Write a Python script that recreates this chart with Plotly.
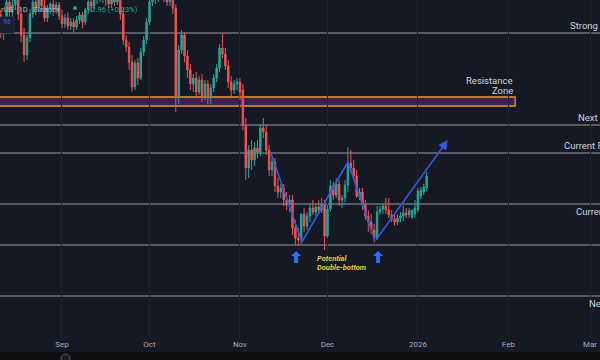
import plotly.graph_objects as go
import pandas as pd

# ---------------- data ----------------
dates = pd.date_range("2025-08-11", periods=147, freq="D")

open_ = [385, 367, 378, 398, 388, 395, 403, 386, 365, 345, 362, 386, 398, 392, 402, 394, 382, 392, 396, 390,
         395, 384, 376, 382, 374, 378, 373, 380, 385, 378, 390, 398, 394, 404, 408, 402, 406, 400, 396, 402,
         398, 404, 386, 360, 353, 338, 313, 337, 322, 348, 360, 378, 398, 406, 402, 410, 404, 408, 398, 404,
         392, 304, 350, 365, 344, 330, 316, 322, 308, 320, 304, 316, 302, 312, 322, 332, 352, 346, 334, 318,
         310, 316, 318, 310, 275, 232, 250, 240, 252, 248, 272, 268, 250, 230, 238, 214, 208, 212, 200, 195,
         200, 172, 162, 160, 186, 174, 184, 192, 188, 193, 190, 195, 164, 191, 214, 205, 216, 200, 202, 215,
         237, 232, 224, 203, 208, 195, 184, 178, 170, 162, 188, 191, 194, 190, 185, 181, 178, 182, 184, 187,
         185, 183, 186, 190, 204, 208, 212]
high = [390, 380, 402, 405, 400, 408, 406, 392, 372, 365, 390, 405, 404, 406, 406, 400, 395, 398, 400, 398,
        398, 390, 386, 388, 382, 382, 384, 388, 388, 392, 402, 402, 408, 410, 412, 410, 412, 406, 404, 408,
        406, 408, 392, 365, 358, 345, 340, 342, 352, 364, 382, 402, 410, 412, 414, 416, 414, 414, 408, 408,
        396, 355, 370, 368, 350, 336, 326, 328, 324, 326, 320, 320, 316, 326, 336, 356, 367, 352, 340, 324,
        320, 322, 322, 316, 282, 255, 260, 258, 260, 276, 282, 275, 255, 242, 242, 222, 216, 216, 208, 205,
        205, 180, 172, 170, 192, 188, 196, 200, 196, 200, 202, 200, 195, 220, 218, 222, 220, 205, 220, 253,
        250, 240, 230, 212, 212, 200, 190, 186, 176, 194, 194, 196, 202, 202, 190, 186, 186, 188, 194, 192,
        192, 190, 200, 212, 213, 216, 228]
low = [362, 360, 375, 380, 382, 390, 380, 358, 338, 340, 358, 382, 385, 388, 388, 378, 378, 386, 384, 386,
       380, 372, 372, 370, 370, 368, 370, 376, 372, 375, 386, 388, 390, 396, 398, 397, 394, 392, 392, 394,
       395, 380, 355, 348, 330, 308, 310, 315, 320, 344, 356, 375, 394, 396, 398, 400, 398, 394, 394, 386,
       288, 296, 346, 338, 322, 310, 308, 304, 305, 298, 300, 296, 296, 308, 318, 328, 342, 330, 312, 304,
       306, 310, 300, 270, 220, 222, 230, 234, 242, 244, 262, 245, 224, 224, 208, 202, 202, 194, 190, 188,
       165, 155, 154, 155, 168, 170, 178, 185, 184, 186, 187, 150, 162, 188, 200, 202, 194, 192, 198, 208,
       228, 220, 202, 200, 190, 180, 168, 166, 157, 160, 185, 186, 186, 182, 178, 174, 175, 178, 179, 182,
       182, 181, 182, 188, 201, 205, 209]
close = [367, 378, 398, 388, 395, 403, 386, 365, 345, 362, 386, 398, 392, 402, 394, 382, 392, 396, 390, 395,
         384, 376, 382, 374, 378, 373, 380, 385, 378, 390, 398, 394, 404, 408, 402, 406, 400, 396, 402, 398,
         404, 386, 360, 353, 338, 313, 337, 322, 348, 360, 378, 398, 406, 402, 410, 404, 408, 398, 404, 392,
         304, 350, 365, 344, 330, 316, 322, 308, 320, 304, 316, 302, 312, 322, 332, 352, 346, 334, 318, 310,
         316, 318, 308, 275, 232, 250, 240, 252, 248, 272, 268, 250, 230, 238, 214, 208, 212, 200, 195, 200,
         172, 162, 160, 186, 174, 184, 192, 188, 193, 190, 196, 164, 191, 214, 205, 216, 200, 202, 215, 237,
         232, 224, 204, 208, 195, 184, 178, 170, 162, 188, 191, 194, 190, 185, 181, 178, 182, 184, 187, 185,
         189, 190, 192, 209, 210, 213, 224]

level_prices = [367, 275, 247, 196, 155, 104]
level_labels = ["Strong Resistance", "Next Resistance", "Current Resistance", "Current Support", "", "Next Support"]
level_label_side = ["above", "above", "above", "below", "", "below"]
level_label_x = [568, 576, 562, 574, 0, 587]  # pixel start of label text

zone_low, zone_high = 294, 303
zone_end = "2026-02-03 08:00"

zig_dates = ["2025-11-11 14:00", "2025-11-22 06:00", "2025-12-08 00:00", "2025-12-17 08:00", "2026-01-11 06:00"]
zig_prices = [247, 158, 238, 159, 260]

bottom_dates = ["2025-11-20 06:00", "2025-12-18 08:00"]

tick_vals = ["2025-09-01", "2025-10-01", "2025-11-01", "2025-12-01", "2026-01-01", "2026-02-01", "2026-03-01"]
tick_text = ["Sep", "Oct", "Nov", "Dec", "2026", "Feb", "Mar"]

# ---------------- layout helpers ----------------
W, H = 600, 360
MB = 22
PH = H - MB


def px(x):
    return x / W


def py(y):
    return (PH - y) / PH


BG = "#151924"
GREEN = "#26a69a"
RED = "#ef5350"
BLUE = "#3658e0"
LEVEL = "#9a9da6"
TXT = "#d1d4dc"
FONT = "Roboto"

fig = go.Figure()

fig.add_trace(go.Candlestick(
    x=dates, open=open_, high=high, low=low, close=close,
    increasing=dict(line=dict(color=GREEN, width=1), fillcolor=GREEN),
    decreasing=dict(line=dict(color=RED, width=1), fillcolor=RED),
    whiskerwidth=0, showlegend=False, hoverinfo="skip",
))

# zigzag (first four segments)
fig.add_trace(go.Scatter(
    x=zig_dates[:4], y=zig_prices[:4], mode="lines",
    line=dict(color=BLUE, width=1.6), showlegend=False, hoverinfo="skip",
))

shapes = []
annotations = []

# horizontal levels
for lv in level_prices:
    shapes.append(dict(type="line", xref="paper", x0=0, x1=1, yref="y", y0=lv, y1=lv,
                       line=dict(color=LEVEL, width=1), layer="below"))

for lv, lab, side, lx in zip(level_prices, level_labels, level_label_side, level_label_x):
    if not lab:
        continue
    annotations.append(dict(
        xref="paper", x=px(lx), xanchor="left", yref="y", y=lv,
        yanchor="bottom" if side == "above" else "top",
        text=lab, showarrow=False, font=dict(family=FONT, size=9.5, color=TXT),
    ))

# resistance zone
shapes.append(dict(type="rect", xref="x", x0="2025-08-01", x1=zone_end, yref="y",
                   y0=zone_low, y1=zone_high, fillcolor="#3b2150",
                   line=dict(color="#e8952f", width=1.3), layer="below"))
annotations.append(dict(xref="x", x=zone_end, xanchor="right", yref="paper", y=py(80), yanchor="middle",
                        text="Resistance", showarrow=False, font=dict(family=FONT, size=9.5, color=TXT)))
annotations.append(dict(xref="x", x=zone_end, xanchor="right", yref="paper", y=py(90), yanchor="middle",
                        text="Zone", showarrow=False, font=dict(family=FONT, size=9.5, color=TXT)))

# final zigzag arrow
annotations.append(dict(
    x=zig_dates[4], y=zig_prices[4], xref="x", yref="y",
    ax=zig_dates[3], ay=zig_prices[3], axref="x", ayref="y",
    showarrow=True, arrowhead=2, arrowsize=1.2, arrowwidth=1.6, arrowcolor=BLUE, text="",
))

# double bottom up arrows (pixel-sized paths anchored at the dates)
ARROW_PATH = "M -2 0 L 2 0 L 2 7 L 5 7 L 0 12 L -5 7 L -2 7 Z"
for d in bottom_dates:
    shapes.append(dict(type="path", xref="x", xsizemode="pixel", xanchor=d,
                       yref="paper", ysizemode="pixel", yanchor=py(263),
                       path=ARROW_PATH, fillcolor="#2f6bff", line=dict(width=0)))

annotations.append(dict(xref="paper", x=px(315), xanchor="left", yref="paper", y=py(258), yanchor="middle",
                        text="<b><i>Potential</i></b>", showarrow=False,
                        font=dict(family=FONT, size=7.5, color="#e9c93c")))
annotations.append(dict(xref="paper", x=px(315), xanchor="left", yref="paper", y=py(267), yanchor="middle",
                        text="<b><i>Double-bottom</i></b>", showarrow=False,
                        font=dict(family=FONT, size=7.5, color="#e9c93c")))

# header
annotations.append(dict(xref="paper", x=px(-1), xanchor="left", yref="paper", y=py(9), yanchor="middle",
                        text="rUS · 1D · Binance", showarrow=False,
                        font=dict(family=FONT, size=7.5, color="#b2b5be")))
shapes.append(dict(type="circle", xref="paper", yref="paper", x0=px(73), x1=px(77), y0=py(10), y1=py(6),
                   fillcolor=GREEN, line=dict(width=0)))
annotations.append(dict(xref="paper", x=px(85), xanchor="left", yref="paper", y=py(9), yanchor="middle",
                        text="+2.96 (+0.23%)", showarrow=False,
                        font=dict(family=FONT, size=7.5, color=GREEN)))
shapes.append(dict(type="rect", xref="paper", yref="paper", x0=px(-2), x1=px(14), y0=py(33), y1=py(17),
                   fillcolor="#1b1f30", line=dict(color="#262b40", width=1)))
annotations.append(dict(xref="paper", x=px(7), xanchor="center", yref="paper", y=py(22), yanchor="middle",
                        text="96", showarrow=False, font=dict(family=FONT, size=7, color="#2962ff")))

# bottom strip
shapes.append(dict(type="rect", xref="paper", yref="paper", x0=0, x1=1, y0=py(362), y1=py(352),
                   fillcolor="#0f0f12", line=dict(width=0), layer="above"))
shapes.append(dict(type="circle", xref="paper", yref="paper", x0=px(61), x1=px(70), y0=py(362), y1=py(354),
                   fillcolor="#1c1c20", line=dict(color="#55575e", width=1), layer="above"))

fig.update_layout(
    width=W, height=H,
    margin=dict(l=0, r=0, t=0, b=MB),
    paper_bgcolor=BG, plot_bgcolor=BG,
    shapes=shapes, annotations=annotations,
    showlegend=False,
    xaxis=dict(
        type="date", range=["2025-08-10 18:00", "2026-03-04 10:00"],
        rangeslider=dict(visible=False),
        tickvals=tick_vals, ticktext=tick_text, ticks="",
        tickfont=dict(family=FONT, size=8, color="#a9acb5"),
        showgrid=True, gridcolor="#1f2331", gridwidth=1,
        zeroline=False, showline=False, fixedrange=True,
    ),
    yaxis=dict(range=[62, 400], visible=False, showgrid=False, zeroline=False, fixedrange=True),
)

fig.write_html("out.html", config={"displayModeBar": False},
               post_script="document.body.style.margin='0';document.body.style.overflow='hidden';")
